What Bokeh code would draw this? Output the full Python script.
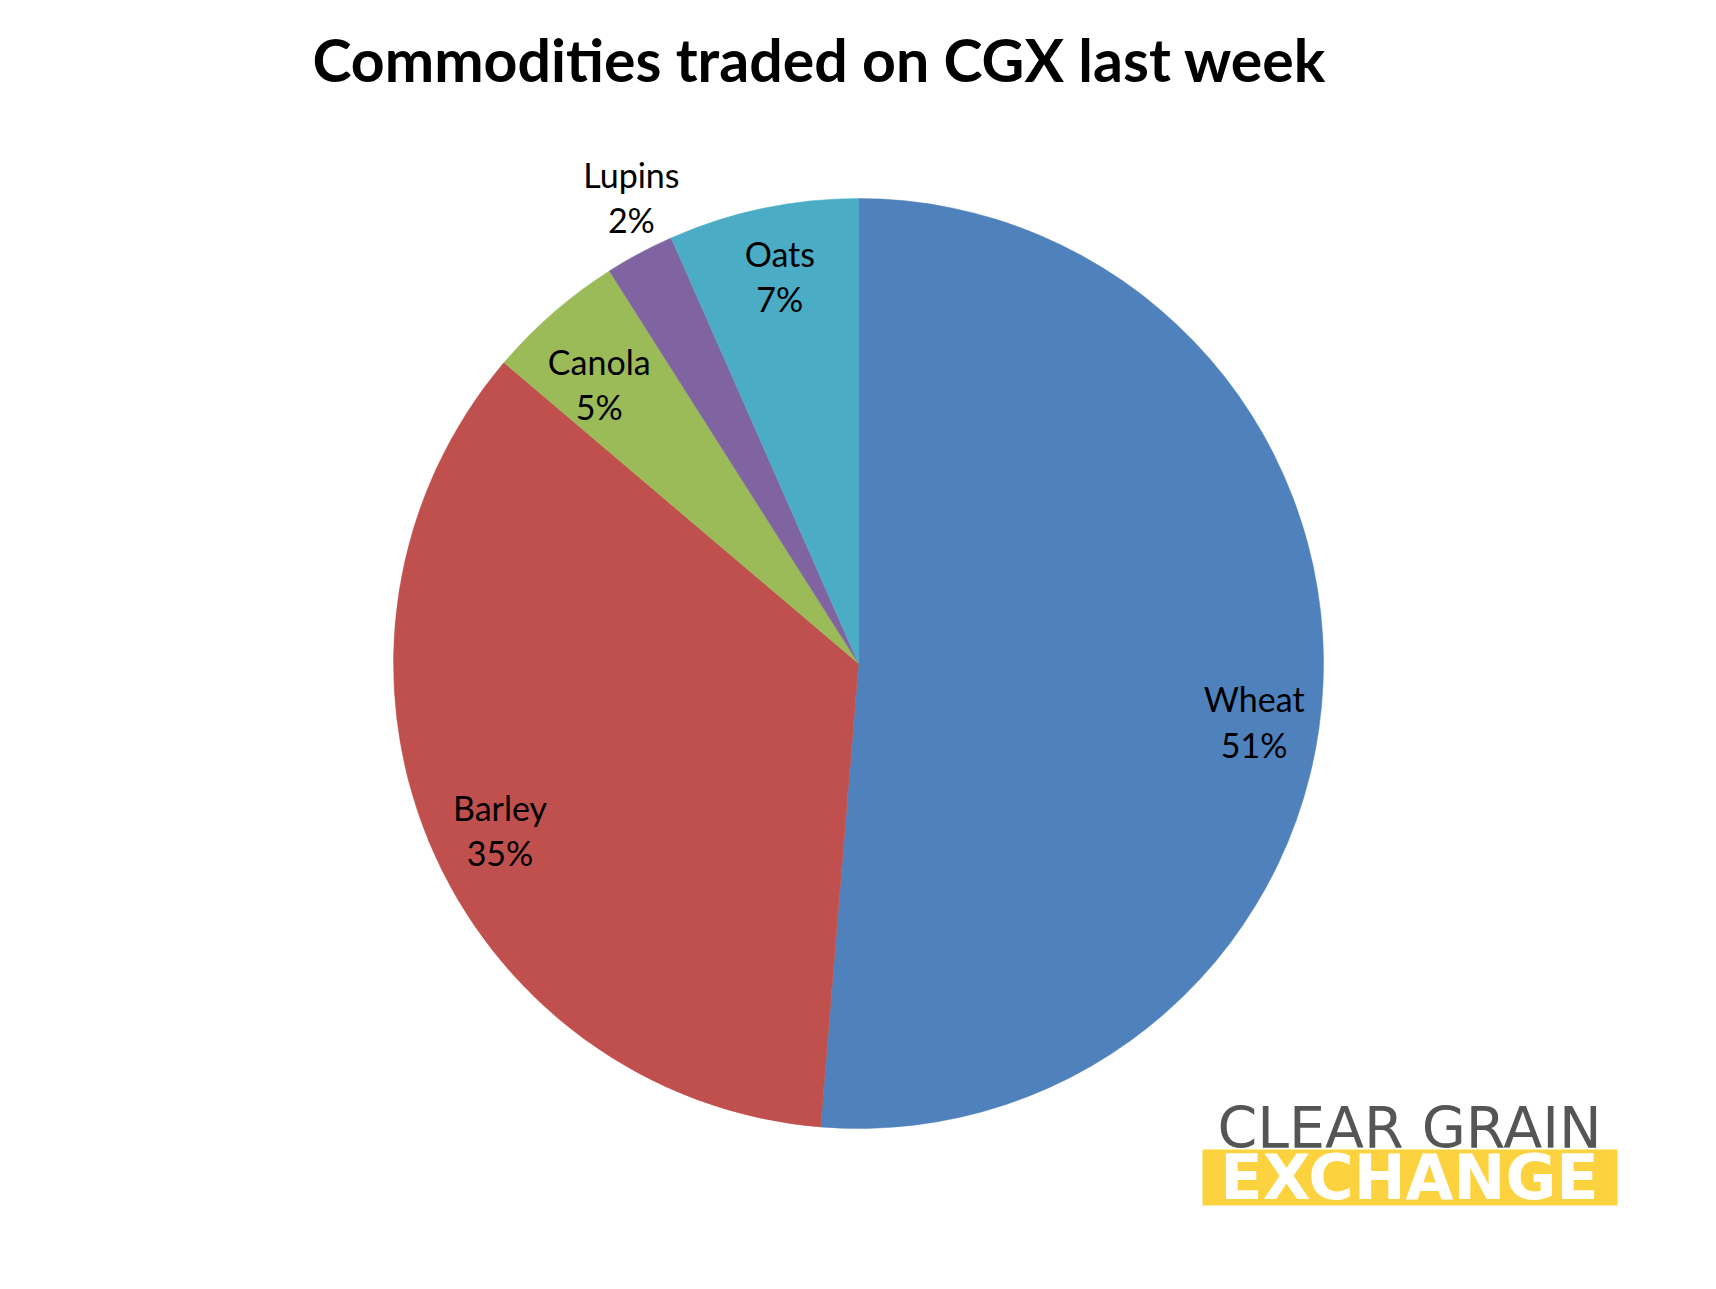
import numpy as np
from bokeh.plotting import figure
from bokeh.models import Range1d, ColumnDataSource
from bokeh.core.properties import value
from bokeh.embed import file_html
from bokeh.resources import INLINE

# ---- data ----
commodities = ["Wheat", "Barley", "Canola", "Lupins", "Oats"]
shares = [51.3, 34.9, 4.8, 2.4, 6.6]          # percent of volume traded
colors = ["#4F81BD", "#C0504D", "#9BBB59", "#8064A2", "#4BACC6"]
label_radius = [0.86, 0.85, 0.82, 1.115, 0.85]  # label distance, fraction of radius
label_shift_deg = [6.0, -2.4, -1.8, 2.1, 0.4]   # clockwise nudge of label from slice middle
title_text = "Commodities traded on CGX last week"

W, H = 1700, 1270
CX, CY, R = 858, 607, 465

p = figure(width=W, height=H, x_range=Range1d(0, W), y_range=Range1d(0, H),
           output_backend="svg", toolbar_location=None, min_border=0,
           x_axis_type=None, y_axis_type=None, title=None)
p.grid.visible = False
p.outline_line_color = None
p.background_fill_color = "white"
p.border_fill_color = "white"

vals = np.array(shares, dtype=float)
frac = vals / vals.sum()
cum = np.concatenate([[0.0], np.cumsum(frac)])
start = np.pi / 2 - 2 * np.pi * cum[:-1]
end = np.pi / 2 - 2 * np.pi * cum[1:]
mid = (start + end) / 2 - np.radians(label_shift_deg)
lr = np.array(label_radius)

src = ColumnDataSource(dict(
    name=commodities, start=start, end=end, color=colors,
    lx=CX + lr * R * np.cos(mid), ly=CY + lr * R * np.sin(mid),
    label=[f"{n}\n{round(v):.0f}%" for n, v in zip(commodities, vals)],
))

p.wedge(x=CX, y=CY, radius=R, start_angle="start", end_angle="end",
        direction="clock", fill_color="color", line_color="color",
        line_width=0.5, source=src)

p.text(x="lx", y="ly", text="label", source=src, text_align="center",
       text_baseline="middle", text_font=value("Lato"), text_font_size="34px",
       text_color="black", text_line_height=1.1)

# title
p.text(x=[819], y=[1211], text=[title_text], text_align="center",
       text_baseline="alphabetic", text_font=value("Lato"),
       text_font_style="bold", text_font_size="59px", text_color="black")

# logo
p.text(x=[1409], y=[143], text=["CLEAR GRAIN"], text_align="center",
       text_baseline="alphabetic", text_font=value("DejaVu Sans"),
       text_font_size="57px", text_color="#555555")
p.quad(left=[1202], right=[1617], bottom=[65], top=[121],
       fill_color="#FCD33F", line_color=None)
p.text(x=[1409], y=[93], text=["EXCHANGE"], text_align="center",
       text_baseline="middle", text_font=value("DejaVu Sans"),
       text_font_style="bold", text_font_size="62px", text_color="white")

open("out.html", "w").write(file_html(p, INLINE))
